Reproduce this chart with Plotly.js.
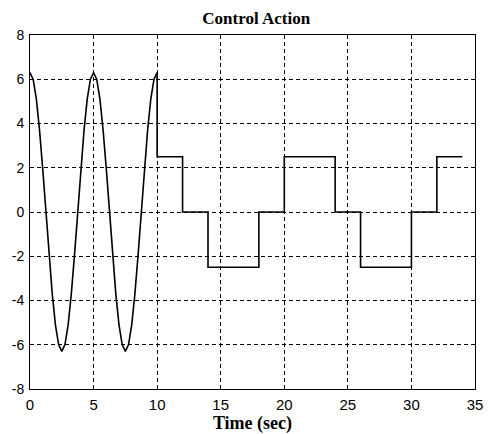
<!DOCTYPE html>
<html>
<head>
<meta charset="utf-8">
<script src="https://cdn.plot.ly/plotly-3.0.1.min.js"></script>
<style>html,body{margin:0;padding:0;background:#fff;}#chart{width:490px;height:434px;}</style>
</head>
<body>
<div id="chart"></div>
<script>
const sineTime = [0,0.25,0.5,0.75,1,1.25,1.5,1.75,2,2.25,2.5,2.75,3,3.25,3.5,3.75,4,4.25,4.5,4.75,5,
                  5.25,5.5,5.75,6,6.25,6.5,6.75,7,7.25,7.5,7.75,8,8.25,8.5,8.75,9,9.25,9.5,9.75,10];
const sineValue = [6.3,5.99,5.10,3.70,1.95,0,-1.95,-3.70,-5.10,-5.99,-6.3,-5.99,-5.10,-3.70,-1.95,0,1.95,3.70,5.10,5.99,6.3,
                   5.99,5.10,3.70,1.95,0,-1.95,-3.70,-5.10,-5.99,-6.3,-5.99,-5.10,-3.70,-1.95,0,1.95,3.70,5.10,5.99,6.3];
// Step phase (10–34 s): segment start times and levels
const stepTime  = [10,12,14,18,20,24,26,30,32,34];
const stepValue = [2.5,0,-2.5,0,2.5,0,-2.5,0,2.5,2.5];

const xTicks = [0,5,10,15,20,25,30,35];
const yTicks = [-8,-6,-4,-2,0,2,4,6,8];

const traces = [
  {x: sineTime, y: sineValue, mode: 'lines', line: {color: '#000', width: 1.6}, hoverinfo: 'skip'},
  {x: [10].concat(stepTime), y: [6.3].concat(stepValue), mode: 'lines', line: {color: '#000', width: 1.6, shape: 'hv'}, hoverinfo: 'skip'}
];

const axisCommon = {
  showline: true, linecolor: '#000', linewidth: 1, mirror: true,
  showgrid: true, gridcolor: '#000', gridwidth: 1, griddash: '4px,3px',
  zeroline: false, ticks: '', tickfont: {family: 'Liberation Sans, Arial, sans-serif', size: 14, color: '#000'}
};

const layout = {
  width: 490, height: 434,
  margin: {l: 29.5, r: 15, t: 35, b: 45},
  paper_bgcolor: '#fff', plot_bgcolor: '#fff',
  showlegend: false,
  title: {text: '<b>Control Action</b>', font: {family: 'Liberation Serif, Times New Roman, serif', size: 17, color: '#000'}, x: 0.523, xanchor: 'center', y: 0.958, yanchor: 'middle'},
  xaxis: Object.assign({}, axisCommon, {
    range: [0, 35], tickvals: xTicks, ticktext: xTicks.map(String), ticklabelstandoff: 2,
    tickfont: {family: 'Liberation Sans, Arial, sans-serif', size: 15, color: '#000'},
    title: {text: '<b>Time (sec)</b>', font: {family: 'Liberation Serif, Times New Roman, serif', size: 18, color: '#000'}, standoff: 2}
  }),
  yaxis: Object.assign({}, axisCommon, {
    range: [-8, 8], tickvals: yTicks, ticktext: yTicks.map(String), ticklabelstandoff: 2
  })
};

Plotly.newPlot('chart', traces, layout, {staticPlot: true, displayModeBar: false});
</script>
</body>
</html>
